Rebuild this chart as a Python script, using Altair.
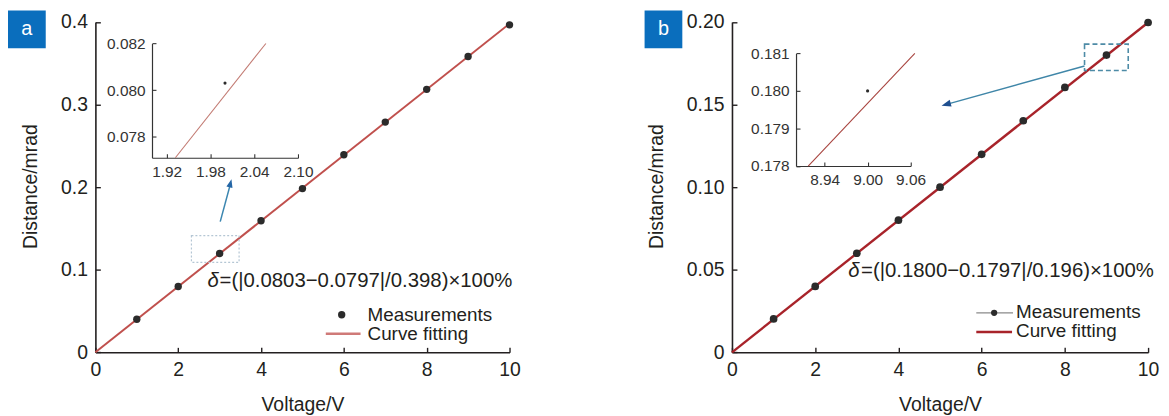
import altair as alt
import pandas as pd

FONT = "Liberation Sans"
INK = "#231f20"

# ---------------- data ----------------
voltage = [1, 2, 3, 4, 5, 6, 7, 8, 9, 10]
dist_a = [0.0400, 0.0797, 0.1197, 0.1594, 0.1983, 0.2392, 0.2788, 0.3185, 0.3582, 0.3966]
dist_b = [0.0202, 0.0399, 0.0600, 0.0800, 0.1000, 0.1199, 0.1402, 0.1604, 0.1800, 0.1997]
fit_v = [0, 10]
fit_a = [0, 0.398]
fit_b = [0, 0.1997]

inset_a_fit_v = [1.932, 2.056]
inset_a_fit_d = [0.0771, 0.0820]
inset_a_pt_v = [2.00]
inset_a_pt_d = [0.0803]
inset_b_fit_v = [8.917, 9.066]
inset_b_fit_d = [0.1780, 0.1810]
inset_b_pt_v = [9.00]
inset_b_pt_d = [0.1800]

xticks_main = [0, 2, 4, 6, 8, 10]
yticks_a = [0, 0.1, 0.2, 0.3, 0.4]
yticks_b = [0, 0.05, 0.10, 0.15, 0.20]
inset_a_xticks = [1.92, 1.98, 2.04, 2.10]
inset_a_yticks = [0.078, 0.080, 0.082]
inset_b_xticks = [8.94, 9.00, 9.06]
inset_b_yticks = [0.178, 0.179, 0.180, 0.181]

legend_labels = ["Measurements", "Curve fitting"]
delta_a = ["δ", "=(|0.0803−0.0797|/0.398)×100%"]
delta_b = ["δ", "=(|0.1800−0.1797|/0.196)×100%"]
panel_tags = ["a", "b"]

# ---------------- layout (pixels inside the view) ----------------
W, H = 1161, 407
YR = [345.3, 12.7]
XR_A = [88, 505]
XR_B = [729, 1148]
IA_X, IA_Y = [145, 292], [149.4, 34.3]
IB_X, IB_Y = [793.5, 908.8], [157.7, 44.3]

COL_A = "#c0504d"
COL_B = "#a8232a"
PT = "#2b2b2b"
BADGE = "#0a6ebd"
INWARD_MAIN = {"expr": "-5"}
INWARD_INSET = {"expr": "-4"}


def scl(domain, rng):
    return alt.Scale(domain=domain, range=rng, nice=False, zero=False)


def main_x_axis(rng):
    return alt.Axis(orient="bottom", offset=YR[0] - H, values=xticks_main, format="d",
                    title="Voltage/V", titleX=(rng[0] + rng[1]) / 2, titleY=59,
                    titleAlign="center", titleBaseline="alphabetic",
                    titleFont=FONT, titleFontSize=19.5, titleFontWeight="normal", titleColor=INK,
                    domainColor=INK, domainWidth=1.6, tickColor=INK, tickWidth=1.4,
                    tickSize=INWARD_MAIN, labelPadding=13.5, labelFont=FONT,
                    labelFontSize=19.5, labelColor=INK, labelFlush=False, labelOverlap=False,
                    grid=False)


def main_y_axis(xpos, values, label_expr, title_x):
    return alt.Axis(orient="left", offset=-xpos, values=values, labelExpr=label_expr,
                    title="Distance/mrad", titleX=title_x, titleY=178, titleAngle=270,
                    titleAlign="center", titleBaseline="middle",
                    titleFont=FONT, titleFontSize=19.5, titleFontWeight="normal", titleColor=INK,
                    domainColor=INK, domainWidth=1.6, tickColor=INK, tickWidth=1.4,
                    tickSize=INWARD_MAIN, labelPadding=13, labelFont=FONT,
                    labelFontSize=19.5, labelColor=INK, labelFlush=False, labelOverlap=False,
                    grid=False)


def inset_x_axis(ypos, values):
    return alt.Axis(orient="bottom", offset=ypos - H, values=values, format=".2f", title=None,
                    domainColor="#333333", domainWidth=1.2, tickColor="#333333", tickWidth=1.1,
                    tickSize=INWARD_INSET, labelPadding=11, labelFont=FONT,
                    labelFontSize=15.5, labelColor="#333333", labelFlush=False,
                    labelOverlap=False, grid=False)


def inset_y_axis(xpos, values):
    return alt.Axis(orient="left", offset=-xpos, values=values, format=".3f", title=None,
                    domainColor="#333333", domainWidth=1.2, tickColor="#333333", tickWidth=1.1,
                    tickSize=INWARD_INSET, labelPadding=11, labelFont=FONT,
                    labelFontSize=15.5, labelColor="#333333", labelFlush=False,
                    labelOverlap=False, grid=False)


def main_panel(xr, ydom, dist, fit, yticks, label_expr, title_x, line_col, line_w, pt_size):
    line = alt.Chart(pd.DataFrame({"v": fit_v, "d": fit})).mark_line(
        color=line_col, strokeWidth=line_w).encode(
        x=alt.X("v:Q", scale=scl([0, 10], xr), axis=main_x_axis(xr)),
        y=alt.Y("d:Q", scale=scl(ydom, YR),
                axis=main_y_axis(xr[0], yticks, label_expr, title_x)))
    pts = alt.Chart(pd.DataFrame({"v": voltage, "d": dist})).mark_circle(
        size=pt_size, color=PT, opacity=1).encode(
        x=alt.X("v:Q", scale=scl([0, 10], xr), axis=None),
        y=alt.Y("d:Q", scale=scl(ydom, YR), axis=None))
    return [line, pts]


def inset_panel(xdom, xr, ydom, yr, fv, fd, pv, pd_, xticks, yticks, line_col):
    line = alt.Chart(pd.DataFrame({"v": fv, "d": fd})).mark_line(
        color=line_col, strokeWidth=1.1).encode(
        x=alt.X("v:Q", scale=scl(xdom, xr), axis=inset_x_axis(yr[0], xticks)),
        y=alt.Y("d:Q", scale=scl(ydom, yr), axis=inset_y_axis(xr[0], yticks)))
    pt = alt.Chart(pd.DataFrame({"v": pv, "d": pd_})).mark_circle(
        size=10, color=PT, opacity=1).encode(
        x=alt.X("v:Q", scale=scl(xdom, xr), axis=None),
        y=alt.Y("d:Q", scale=scl(ydom, yr), axis=None))
    return [line, pt]


def one_row():
    return pd.DataFrame({"k": [0]})


def text_mark(txt, x, y, size=20, align="left", baseline="alphabetic", style="normal", color=INK):
    return alt.Chart(pd.DataFrame({"t": [txt]})).mark_text(
        align=align, baseline=baseline, font=FONT, fontSize=size, fontStyle=style,
        color=color).encode(x=alt.value(x), y=alt.value(y), text="t:N")


def seg(x1, y1, x2, y2, color, width, dash=None):
    kw = dict(color=color, strokeWidth=width)
    if dash:
        kw["strokeDash"] = dash
    return alt.Chart(one_row()).mark_rule(**kw).encode(
        x=alt.value(x1), y=alt.value(y1), x2=alt.value(x2), y2=alt.value(y2))


def box(x1, y1, x2, y2, color, width, dash):
    return alt.Chart(one_row()).mark_rect(
        fill=None, fillOpacity=0, stroke=color, strokeWidth=width, strokeDash=dash).encode(
        x=alt.value(x1), y=alt.value(y1), x2=alt.value(x2), y2=alt.value(y2))


def badge(x1, letter):
    r = alt.Chart(one_row()).mark_rect(color=BADGE).encode(
        x=alt.value(x1), y=alt.value(1), x2=alt.value(x1 + 38), y2=alt.value(39))
    t = text_mark(letter, x1 + 19, 20, size=20, align="center", baseline="middle", color="white")
    return [r, t]


def arrow_head(x, y, angle, color, size):
    return alt.Chart(one_row()).mark_point(
        shape="M0,-1L0.75,1L-0.75,1Z", filled=True, size=size, angle=angle,
        color=color, opacity=1).encode(x=alt.value(x), y=alt.value(y))


def dot(x, y, size):
    return alt.Chart(one_row()).mark_circle(size=size, color=PT, opacity=1).encode(
        x=alt.value(x), y=alt.value(y))


units = []
# ---------------- panel a ----------------
units += main_panel(XR_A, [0, 0.4], dist_a, fit_a, yticks_a,
                    "datum.value == 0 ? '0' : format(datum.value, '.1f')", -65, COL_A, 2, 55)
units += inset_panel([1.90, 2.10], IA_X, [0.0771, 0.082], IA_Y,
                     inset_a_fit_v, inset_a_fit_d, inset_a_pt_v, inset_a_pt_d,
                     inset_a_xticks, inset_a_yticks, "#c27a72")
units += badge(0, panel_tags[0])
units += [
    box(184.7, 227.7, 232.7, 254.7, "#b4c6d4", 1.2, [2, 2]),
    seg(213.7, 213.7, 224.3, 174.5, "#3b86b0", 1.5),
    arrow_head(224, 175, 14, "#2466a6", 70),
    text_mark(delta_a[0], 201, 279.3, size=20.5, style="italic"),
    text_mark(delta_a[1], 213, 279.3, size=20.5),
    dot(336, 307.5, 55),
    text_mark(legend_labels[0], 362, 313.5, size=19),
    seg(320, 326.7, 355, 326.7, "#cf7a78", 2.5),
    text_mark(legend_labels[1], 362, 333, size=19),
]

# ---------------- panel b ----------------
units += main_panel(XR_B, [0, 0.2], dist_b, fit_b, yticks_b,
                    "datum.value == 0 ? '0' : format(datum.value, '.2f')", -76, COL_B, 2.4, 60)
units += inset_panel([8.90, 9.06], IB_X, [0.178, 0.181], IB_Y,
                     inset_b_fit_v, inset_b_fit_d, inset_b_pt_v, inset_b_pt_d,
                     inset_b_xticks, inset_b_yticks, "#a8443f")
units += badge(641, panel_tags[1])
units += [
    box(1084, 35, 1128, 61.5, "#4d8ba6", 1.6, [5, 3]),
    seg(1084, 57, 945, 95.7, "#3f86a8", 1.4),
    arrow_head(944.6, 95.7, 254.5, "#1f4f8f", 90),
    text_mark(delta_b[0], 846, 269.3, size=20.5, style="italic"),
    text_mark(delta_b[1], 859, 269.3, size=20.5),
    seg(975, 305.5, 1012, 305.5, "#8a8a8a", 1.3),
    dot(993, 305.5, 40),
    text_mark(legend_labels[0], 1015, 310.8, size=19),
    seg(975, 324.8, 1011, 324.8, COL_B, 2.4),
    text_mark(legend_labels[1], 1015, 330.3, size=19),
]

chart = alt.layer(*units).resolve_scale(
    x="independent", y="independent"
).properties(
    width=W, height=H, padding=0, autosize=alt.AutoSizeParams(type="none"),
    background="white"
).configure_view(stroke=None)

chart.save("out.html", embed_options={"renderer": "svg", "actions": False})
